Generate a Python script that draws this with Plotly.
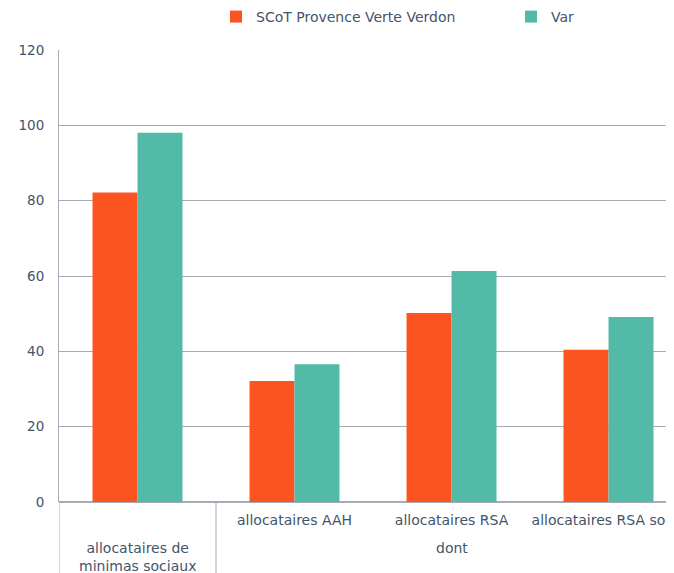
"""Allocataires de minimas sociaux: SCoT Provence Verte Verdon vs Var."""

import plotly.graph_objects as go

# x axis: first level (categories) and second level (groups, by category index)
categories = [" ", "allocataires AAH", "allocataires RSA", "allocataires RSA socle"]
group_labels = ["allocataires de<br>minimas sociaux", "dont"]
group_centers = [0, 2]
group_dividers = [-0.5, 0.5]

scot_values = [82.2, 32.1, 50.2, 40.4]
var_values = [98.0, 36.6, 61.3, 49.1]

y_ticks = [0, 20, 40, 60, 80, 100, 120]

TEXT = "#44546A"
GRID = "#A9AAB8"

fig = go.Figure()
fig.add_trace(
    go.Bar(
        x=categories,
        y=scot_values,
        name="SCoT Provence Verte Verdon",
        marker=dict(color="#FC5420", line=dict(width=0)),
        legend="legend",
        showlegend=True,
    )
)
fig.add_trace(
    go.Bar(
        x=categories,
        y=var_values,
        name="Var",
        marker=dict(color="#53BAA8", line=dict(width=0)),
        legend="legend2",
        showlegend=True,
    )
)

# second level of the category axis
for label, center in zip(group_labels, group_centers):
    fig.add_annotation(
        x=center,
        xref="x",
        y=-0.079,
        yref="paper",
        yanchor="top",
        text=label,
        showarrow=False,
        font=dict(size=14, color=TEXT),
    )
for pos in group_dividers:
    fig.add_shape(
        type="line",
        xref="x",
        yref="paper",
        x0=pos,
        x1=pos,
        y0=0,
        y1=-0.2,
        line=dict(color=GRID, width=1),
    )

legend_style = dict(
    orientation="h",
    y=1.073,
    xanchor="left",
    yanchor="middle",
    itemwidth=30,
    bgcolor="rgba(0,0,0,0)",
    font=dict(size=14, color=TEXT),
)

# the page adds an 8px body margin, so the figure is drawn 8px right and down
fig.update_layout(
    width=674,
    height=573,
    margin=dict(l=51, r=8, t=42, b=79, autoexpand=False),
    paper_bgcolor="white",
    plot_bgcolor="white",
    font=dict(family="DejaVu Sans", size=14, color=TEXT),
    barmode="group",
    bargap=0.427,
    bargroupgap=0,
    showlegend=True,
    legend=dict(x=0.2553, **legend_style),
    legend2=dict(x=0.735, **legend_style),
)
fig.update_xaxes(
    type="category",
    range=[-0.5, 3.417],
    automargin=False,
    showline=False,
    showgrid=False,
    ticks="",
    tickangle=0,
    ticklabelstandoff=8,
    tickfont=dict(size=14, color=TEXT),
)
fig.update_yaxes(
    range=[0, 120],
    tickvals=y_ticks,
    automargin=False,
    showgrid=True,
    gridcolor=GRID,
    gridwidth=1,
    zeroline=True,
    zerolinecolor=GRID,
    showline=True,
    linecolor=GRID,
    linewidth=1,
    ticks="",
    ticklabelstandoff=11,
    tickfont=dict(size=13.5, color=TEXT),
)

fig.write_html("out.html")
